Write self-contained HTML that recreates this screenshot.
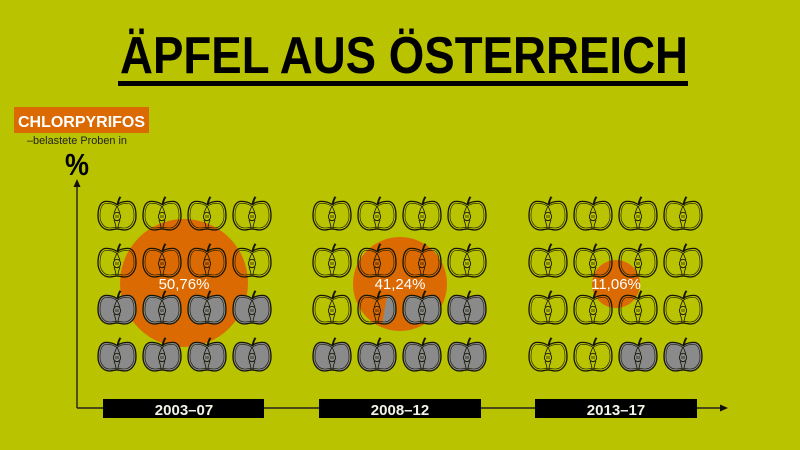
<!DOCTYPE html>
<html><head><meta charset="utf-8"><style>
html,body{margin:0;padding:0;background:#bac300;}
svg{display:block;}
text{font-family:"Liberation Sans",sans-serif;}
</style></head><body>
<svg width="800" height="450" viewBox="0 0 800 450" xmlns="http://www.w3.org/2000/svg">
<defs>
<path id="body" d="M0,-10.5 C-3.5,-13 -8,-14 -12.5,-13.5 C-17.5,-12 -19,-6 -19,1 C-19,9 -14,15 -7.5,15 C-4.5,15 -2,14 0,14 C2,14 4.5,15 7.5,15 C14,15 19,9 19,1 C19,-6 17.5,-12 12.5,-13.5 C8,-14 3.5,-13 0,-10.5 Z"/>
<g id="ao" fill="none" stroke="#151505">
  <use href="#body" stroke-width="1.3"/>
  <path d="M0,-8.5 C-3.5,-11 -8,-12 -12,-11.5 C-16,-10 -17,-5 -17,1 C-17,8 -12.5,13 -7.5,13 C-4.5,13 -2,12.2 0,12.2 C2,12.2 4.5,13 7.5,13 C12.5,13 17,8 17,1 C17,-5 16,-10 12,-11.5 C8,-12 3.5,-11 0,-8.5" stroke-width="0.6"/>
  <path d="M0,-10 C0.5,-13 1.5,-16 3,-18.5 M1,-10 C1.5,-13 2.5,-16 4,-18" stroke-width="1"/>
  <path d="M0,-9 C-1.5,-6 -2,-4 -3,-2 M0,-9 C1.5,-6 2,-4 3,-2 M-3,5 C-2,8 -1,10 -1,13.5 M3,5 C2,8 1,10 1,13.5" stroke-width="0.8"/>
  <ellipse cx="0" cy="1.5" rx="3.6" ry="4.2" stroke-width="0.9"/>
  <path d="M-1,0 L-1,3 M1,0 L1,3" stroke-width="0.7"/>
</g>
<clipPath id="part"><polygon points="11,-20 25,-20 25,22 4,22"/></clipPath>
</defs>

<!-- title -->
<text x="120" y="73" font-size="52" font-weight="bold" fill="#000" textLength="568" lengthAdjust="spacingAndGlyphs">ÄPFEL AUS ÖSTERREICH</text>
<rect x="118" y="81" width="570" height="5" fill="#000"/>

<!-- legend label -->
<rect x="14" y="107" width="135" height="26" fill="#db6a02"/>
<text x="18" y="127" font-size="16" font-weight="bold" fill="#fff" textLength="127" lengthAdjust="spacingAndGlyphs">CHLORPYRIFOS</text>
<text x="27" y="144" font-size="11" fill="#222" textLength="100" lengthAdjust="spacingAndGlyphs">–belastete Proben in</text>
<text x="65" y="175" font-size="31" font-weight="bold" fill="#000" textLength="24" lengthAdjust="spacingAndGlyphs">%</text>

<!-- axes -->
<line x1="77" y1="186" x2="77" y2="408" stroke="#222" stroke-width="1.4"/>
<polygon points="77,179 73.5,187 80.5,187" fill="#111"/>
<line x1="77" y1="408" x2="721" y2="408" stroke="#222" stroke-width="1.4"/>
<polygon points="728,408 720,404.5 720,411.5" fill="#111"/>

<!-- circles -->
<circle cx="184" cy="283" r="64" fill="#db6a02"/>
<circle cx="400" cy="284" r="47" fill="#db6a02"/>
<circle cx="616" cy="284" r="24" fill="#db6a02"/>

<!-- gray fills -->
<g fill="#8a8a8a">
  <use href="#body" x="117" y="309"/><use href="#body" x="162" y="309"/><use href="#body" x="207" y="309"/><use href="#body" x="252" y="309"/>
  <use href="#body" x="117" y="356"/><use href="#body" x="162" y="356"/><use href="#body" x="207" y="356"/><use href="#body" x="252" y="356"/>
  <g transform="translate(377,309)"><use href="#body" clip-path="url(#part)"/></g>
  <use href="#body" x="422" y="309"/><use href="#body" x="467" y="309"/>
  <use href="#body" x="332" y="356"/><use href="#body" x="377" y="356"/><use href="#body" x="422" y="356"/><use href="#body" x="467" y="356"/>
  <use href="#body" x="638" y="356"/><use href="#body" x="683" y="356"/>
</g>

<!-- apple outlines -->
<g>
  <use href="#ao" x="117" y="215"/><use href="#ao" x="162" y="215"/><use href="#ao" x="207" y="215"/><use href="#ao" x="252" y="215"/>
  <use href="#ao" x="117" y="262"/><use href="#ao" x="162" y="262"/><use href="#ao" x="207" y="262"/><use href="#ao" x="252" y="262"/>
  <use href="#ao" x="117" y="309"/><use href="#ao" x="162" y="309"/><use href="#ao" x="207" y="309"/><use href="#ao" x="252" y="309"/>
  <use href="#ao" x="117" y="356"/><use href="#ao" x="162" y="356"/><use href="#ao" x="207" y="356"/><use href="#ao" x="252" y="356"/>

  <use href="#ao" x="332" y="215"/><use href="#ao" x="377" y="215"/><use href="#ao" x="422" y="215"/><use href="#ao" x="467" y="215"/>
  <use href="#ao" x="332" y="262"/><use href="#ao" x="377" y="262"/><use href="#ao" x="422" y="262"/><use href="#ao" x="467" y="262"/>
  <use href="#ao" x="332" y="309"/><use href="#ao" x="377" y="309"/><use href="#ao" x="422" y="309"/><use href="#ao" x="467" y="309"/>
  <use href="#ao" x="332" y="356"/><use href="#ao" x="377" y="356"/><use href="#ao" x="422" y="356"/><use href="#ao" x="467" y="356"/>

  <use href="#ao" x="548" y="215"/><use href="#ao" x="593" y="215"/><use href="#ao" x="638" y="215"/><use href="#ao" x="683" y="215"/>
  <use href="#ao" x="548" y="262"/><use href="#ao" x="593" y="262"/><use href="#ao" x="638" y="262"/><use href="#ao" x="683" y="262"/>
  <use href="#ao" x="548" y="309"/><use href="#ao" x="593" y="309"/><use href="#ao" x="638" y="309"/><use href="#ao" x="683" y="309"/>
  <use href="#ao" x="548" y="356"/><use href="#ao" x="593" y="356"/><use href="#ao" x="638" y="356"/><use href="#ao" x="683" y="356"/>
</g>

<!-- percent labels -->
<g font-size="15" fill="#fff" text-anchor="middle">
  <text x="184" y="289">50,76%</text>
  <text x="400" y="289">41,24%</text>
  <text x="616" y="289">11,06%</text>
</g>

<!-- period boxes -->
<rect x="103" y="399" width="161" height="19" fill="#000"/>
<rect x="319" y="399" width="162" height="19" fill="#000"/>
<rect x="535" y="399" width="162" height="19" fill="#000"/>
<g font-size="15" font-weight="bold" fill="#f2f2e6" text-anchor="middle">
  <text x="184" y="415">2003–07</text>
  <text x="400" y="415">2008–12</text>
  <text x="616" y="415">2013–17</text>
</g>
</svg>
</body></html>
